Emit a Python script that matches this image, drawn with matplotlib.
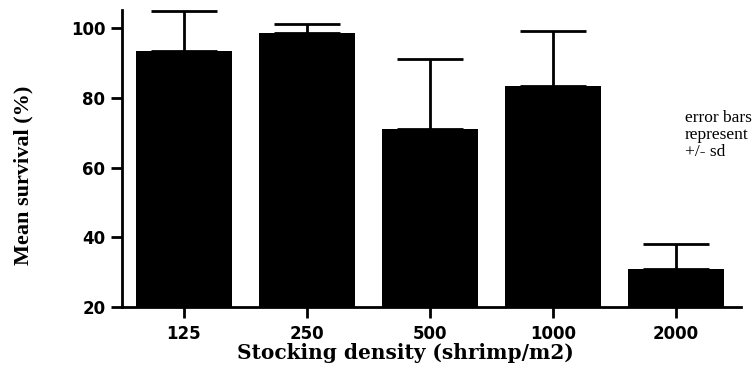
import matplotlib.pyplot as plt

# Data
densities = ["125", "250", "500", "1000", "2000"]
survival = [93.4, 98.5, 71.0, 83.3, 30.9]
sd = [11.4, 2.6, 20.0, 16.0, 7.2]

fig = plt.figure(figsize=(7.56, 3.69), dpi=100)
ax = fig.add_axes([0.1614, 0.168, 0.819, 0.805])

x = range(len(densities))
ax.bar(x, survival, width=0.78, color="black", bottom=0)
ax.errorbar(x, survival, yerr=[[0] * len(sd), sd], fmt="none",
            ecolor="black", elinewidth=2, capsize=24, capthick=2)

ax.set_xlim(-0.5, 4.53)
ax.set_ylim(20, 105.2)
ax.set_yticks([20, 40, 60, 80, 100])
ax.set_xticks(list(x))
ax.set_xticklabels(densities)

for side in ["top", "right"]:
    ax.spines[side].set_visible(False)
for side in ["left", "bottom"]:
    ax.spines[side].set_linewidth(2)

ax.tick_params(axis="both", direction="out", length=8, width=2)
ax.tick_params(axis="x", pad=5)
ax.tick_params(axis="y", pad=4)
for lab in ax.get_xticklabels() + ax.get_yticklabels():
    lab.set_fontfamily("DejaVu Sans")
    lab.set_fontweight("bold")
    lab.set_fontsize(12)

ax.set_xlabel("Stocking density (shrimp/m2)", family="DejaVu Serif",
              fontweight="bold", fontsize=14.5)
ax.xaxis.set_label_coords(0.457, -0.12)
ax.set_ylabel("Mean survival (%)", family="Liberation Serif",
              fontweight="bold", fontsize=16)
ax.yaxis.set_label_coords(-0.143, 0.444)

fig.text(0.906, 0.634, "error bars\nrepresent\n+/- sd", family="Liberation Serif",
         fontsize=12.5, va="center", ha="left", linespacing=1.12)

fig.savefig("out.png", dpi=100)
